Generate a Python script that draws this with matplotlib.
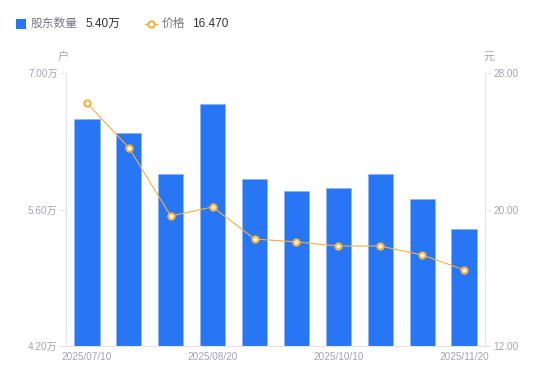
import matplotlib
matplotlib.use("Agg")
import matplotlib.pyplot as plt
from matplotlib.lines import Line2D
import numpy as np

plt.rcParams['font.family'] = ['Liberation Sans', 'Noto Sans CJK SC', 'DejaVu Sans']

dates = ["2025/07/10", "2025/07/20", "2025/07/31", "2025/08/20", "2025/08/31",
         "2025/09/20", "2025/10/10", "2025/10/20", "2025/10/31", "2025/11/20"]
holders = [6.53, 6.38, 5.96, 6.68, 5.91, 5.79, 5.82, 5.96, 5.71, 5.40]   # 万户
price = [26.24, 23.62, 19.62, 20.15, 18.27, 18.10, 17.86, 17.86, 17.33, 16.47]
left_ticks = [4.20, 5.60, 7.00]
right_ticks = [12.00, 20.00, 28.00]

BLUE = '#2776F4'
ORANGE = '#F7B03B'
GRID = '#E3E3E8'
TICK = '#A3A3B3'

fig = plt.figure(figsize=(5.5, 3.81), dpi=100)
ax = fig.add_axes([66/550, 1-346/381, (485-66)/550, (346-73)/381])
x = np.arange(len(dates))
ax.bar(x, holders, width=0.6, color=BLUE, edgecolor='#8DB4FA', linewidth=0.6, zorder=2)
ax.set_xlim(-0.5, len(dates)-0.5)
ax.set_ylim(left_ticks[0], left_ticks[-1])
ax.set_yticks(left_ticks)
ax.set_yticklabels([f"{v:.2f}万" for v in left_ticks])
ax.set_xticks(x[::3])
ax.set_xticklabels([dates[i] for i in range(0, len(dates), 3)])

ax2 = ax.twinx()
ax2.plot(x, price, color=ORANGE, linewidth=0.8, marker='o', markersize=4.5,
         markerfacecolor='white', markeredgecolor=ORANGE, markeredgewidth=1.5, zorder=3)
ax2.set_ylim(right_ticks[0], right_ticks[-1])
ax2.set_yticks(right_ticks)
ax2.set_yticklabels([f"{v:.2f}" for v in right_ticks])

for a in (ax, ax2):
    for s in a.spines.values():
        s.set_visible(False)
ax.spines['left'].set_visible(True)
ax.spines['left'].set_color(GRID)
ax.spines['bottom'].set_visible(True)
ax.spines['bottom'].set_color(GRID)
ax2.spines['right'].set_visible(True)
ax2.spines['right'].set_color(GRID)

ax.tick_params(axis='y', colors=GRID, labelcolor=TICK, labelsize=7.2, length=4, width=0.8, pad=2)
ax.tick_params(axis='x', length=0, labelcolor=TICK, labelsize=7.2, pad=4)
ax2.tick_params(axis='y', colors=GRID, labelcolor=TICK, labelsize=7.2, length=4, width=0.8, pad=2)

fig.text(58/550, 1-57/381, "户", color=TICK, fontsize=8, ha='left', va='center')
fig.text(484/550, 1-57/381, "元", color=TICK, fontsize=8, ha='left', va='center')

# legend
fig.patches.append(plt.Rectangle((16/550, 1-29/381), 10/550, 10/381, transform=fig.transFigure,
                                 facecolor=BLUE, edgecolor='none'))
fig.text(31/550, 1-24/381, "股东数量", color='#777788', fontsize=8.5, ha='left', va='center')
fig.text(85/550, 1-24/381, f"{holders[-1]:.2f}万", color='#333333', fontsize=8.5, ha='left', va='center')
fig.lines.append(Line2D([145/550, 157/550], [1-24/381, 1-24/381], transform=fig.transFigure,
                        color=ORANGE, linewidth=1))
fig.lines.append(Line2D([151/550], [1-24/381], transform=fig.transFigure, marker='o', markersize=4.5,
                        markerfacecolor='white', markeredgecolor=ORANGE, markeredgewidth=1.5))
fig.text(162/550, 1-24/381, "价格", color='#777788', fontsize=8.5, ha='left', va='center')
fig.text(192/550, 1-24/381, f"{price[-1]:.3f}", color='#333333', fontsize=8.5, ha='left', va='center')

fig.savefig("out.png", dpi=100)
